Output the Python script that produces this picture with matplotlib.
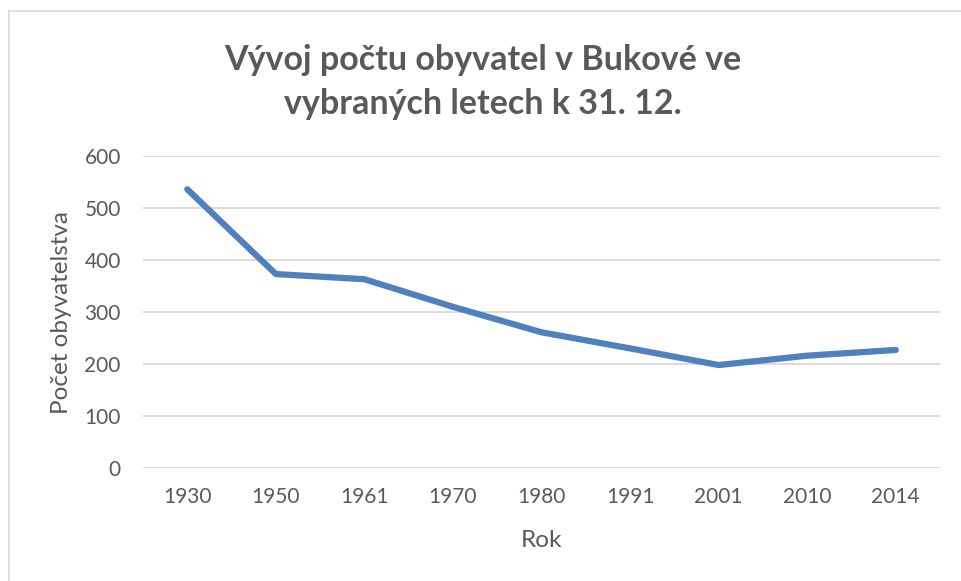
import matplotlib
matplotlib.use("Agg")
from matplotlib import pyplot as plt
from matplotlib.lines import Line2D

# data
years = ["1930", "1950", "1961", "1970", "1980", "1991", "2001", "2010", "2014"]
population = [536, 373, 363, 310, 261, 230, 198, 216, 227]
y_ticks = [0, 100, 200, 300, 400, 500, 600]

text_color = "#595959"
line_color = "#4f81bd"
grid_color = "#d9d9d9"

plt.rcParams['font.family'] = ['Lato', 'DejaVu Sans']

W, H = 961, 581
fig = plt.figure(figsize=(W / 100, H / 100), dpi=100)
left, right, top, bottom = 143, 940, 156, 468
ax = fig.add_axes([left / W, 1 - bottom / H, (right - left) / W, (bottom - top) / H])

x = list(range(len(years)))
ax.plot(x, population, color=line_color, linewidth=4.5, solid_capstyle='round',
        solid_joinstyle='round', zorder=3)

ax.set_xlim(-0.5, len(years) - 0.5)
ax.set_ylim(0, 600)
ax.set_yticks(y_ticks)
ax.set_xticks(x)
ax.set_xticklabels(years)
ax.grid(axis='y', color=grid_color, linewidth=1.3)
ax.set_axisbelow(True)
for s in ax.spines.values():
    s.set_visible(False)
ax.tick_params(length=0, labelsize=15, labelcolor=text_color)
ax.tick_params(axis='y', pad=16)
ax.tick_params(axis='x', pad=14)

ax.set_xlabel("Rok", fontsize=17.5, color=text_color, labelpad=16)
ax.set_ylabel("Počet obyvatelstva", fontsize=17.5, color=text_color, labelpad=9)

fig.text(0.5 * (W + 5) / W, 1 - 82 / H, "Vývoj počtu obyvatel v Bukové ve\nvybraných letech k 31. 12.",
         ha='center', va='center', fontsize=24.5, fontweight='bold', color=text_color,
         linespacing=1.48)

# chart area border (top and left visible)
fig.add_artist(Line2D([9 / W, 9 / W], [0, 1 - 11 / H], color=grid_color, linewidth=1.2,
                      transform=fig.transFigure))
fig.add_artist(Line2D([9 / W, 1], [1 - 11 / H, 1 - 11 / H], color=grid_color, linewidth=1.2,
                      transform=fig.transFigure))

fig.savefig("out.png", dpi=100)
